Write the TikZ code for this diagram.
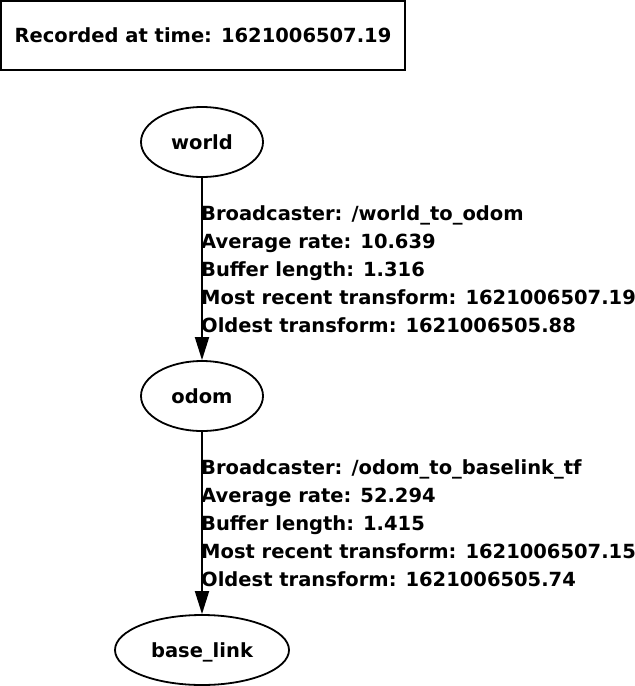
\documentclass[tikz,border=0pt]{standalone}
\usepackage{fontspec}
\setmainfont{DejaVu Sans}
\usetikzlibrary{shapes.geometric,arrows.meta}
\begin{document}
\begin{tikzpicture}[x=1pt,y=-1pt,
  every node/.style={font=\bfseries\fontsize{19.5}{28}\selectfont},
  frame/.style={draw,line width=1.8pt,inner sep=0pt},
  tfnode/.style={draw,ellipse,line width=1.8pt,inner sep=0pt,minimum height=70pt,text height=14.5pt,text depth=0pt},
  edgelabel/.style={align=left,inner sep=0pt,anchor=west},
  link/.style={line width=1.8pt,-{Triangle[length=23pt,width=14pt]}}]
\useasboundingbox (0,0) rectangle (635,686);
\node[frame,minimum width=404pt,minimum height=69pt] (rec) at (203,35.5) {Recorded at time: 1621006507.19};
\node[tfnode,minimum width=122pt] (world) at (202,142) {world};
\node[tfnode,minimum width=122pt] (odom) at (202,396) {odom};
\node[tfnode,minimum width=174pt] (base) at (202,650) {base\_link};
\draw[link] (world) -- (odom);
\draw[link] (odom) -- (base);
\node[edgelabel] (l1) at (201,269) {Broadcaster: /world\_to\_odom\\Average rate: 10.639\\Buffer length: 1.316\\Most recent transform: 1621006507.19\\Oldest transform: 1621006505.88};
\node[edgelabel] (l2) at (201,523) {Broadcaster: /odom\_to\_baselink\_tf\\Average rate: 52.294\\Buffer length: 1.415\\Most recent transform: 1621006507.15\\Oldest transform: 1621006505.74};
\end{tikzpicture}
\end{document}
